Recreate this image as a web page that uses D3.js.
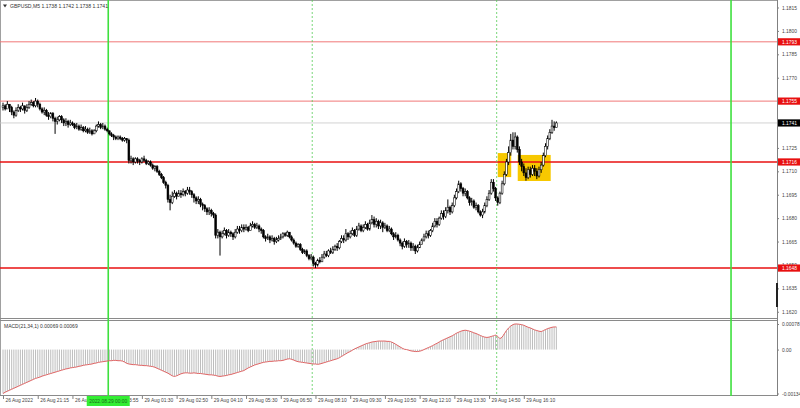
<!DOCTYPE html>
<html><head><meta charset="utf-8">
<script src="https://cdn.jsdelivr.net/npm/d3@7"></script>
<style>body{margin:0;background:#fff}svg{display:block}text{font-family:"Liberation Sans",Arial,sans-serif}</style>
</head><body><svg id="c" width="800" height="408"></svg>
<script>
// ---- data (GBPUSD M5) ----
const firstOpen = 1.1751;
const closes = [
1.1752,1.1750,1.1753,1.1751,1.1748,1.1746,1.1749,1.1751,1.1750,1.1752,1.1749,1.1751,1.1753,1.1754,1.1752,1.1755,
1.1753,1.1750,1.1748,1.1749,1.1746,1.1745,1.1747,1.1744,1.1742,1.1743,1.1745,1.1743,1.1741,1.1742,1.1740,1.1741,
1.1740,1.1738,1.1739,1.1737,1.1738,1.1736,1.1737,1.1735,1.1736,1.1734,1.1736,1.1739,1.1740,1.1738,1.1739,1.1737,
1.1736,1.1734,1.1733,1.1732,1.1731,1.1732,1.1731,1.1730,1.1731,1.1730,1.1717,1.1718,1.1716,1.1718,1.1717,1.1716,
1.1718,1.1717,1.1715,1.1716,1.1714,1.1712,1.1713,1.1710,1.1708,1.1706,1.1703,1.1701,1.1692,1.1690,1.1694,1.1696,
1.1694,1.1696,1.1695,1.1697,1.1696,1.1698,1.1697,1.1695,1.1693,1.1691,1.1692,1.1689,1.1688,1.1686,1.1684,1.1685,
1.1683,1.1682,1.1669,1.1671,1.1668,1.1670,1.1672,1.1669,1.1671,1.1670,1.1668,1.1671,1.1673,1.1672,1.1674,1.1673,
1.1674,1.1672,1.1675,1.1676,1.1674,1.1675,1.1673,1.1672,1.1668,1.1667,1.1668,1.1666,1.1667,1.1665,1.1666,1.1667,
1.1668,1.1670,1.1669,1.1671,1.1668,1.1666,1.1664,1.1662,1.1663,1.1660,1.1658,1.1659,1.1656,1.1654,1.1655,1.1651,
1.1650,1.1653,1.1652,1.1655,1.1657,1.1656,1.1659,1.1658,1.1660,1.1662,1.1661,1.1665,1.1667,1.1666,1.1670,1.1668,
1.1670,1.1672,1.1669,1.1673,1.1675,1.1672,1.1674,1.1676,1.1673,1.1677,1.1679,1.1676,1.1678,1.1675,1.1677,1.1674,
1.1675,1.1672,1.1673,1.1670,1.1668,1.1669,1.1666,1.1664,1.1662,1.1665,1.1663,1.1664,1.1661,1.1662,1.1659,1.1661,
1.1663,1.1666,1.1668,1.1670,1.1669,1.1672,1.1675,1.1678,1.1676,1.1680,1.1683,1.1681,1.1685,1.1687,1.1684,1.1688,
1.1693,1.1697,1.1702,1.1699,1.1696,1.1697,1.1693,1.1690,1.1691,1.1687,1.1688,1.1684,1.1682,1.1684,1.1688,1.1692,
1.1696,1.1703,1.1699,1.1693,1.1690,1.1696,1.1702,1.1708,1.1716,1.1722,1.1730,1.1726,1.1732,1.1724,1.1716,1.1713,
1.1709,1.1706,1.1711,1.1708,1.1712,1.1710,1.1707,1.1711,1.1714,1.1720,1.1726,1.1731,1.1735,1.1739,1.1738,1.1741];
const highs = [
1.1754,1.1753,1.1755,1.1753,1.1752,1.1749,1.1751,1.1753,1.1752,1.1754,1.1752,1.1753,1.1755,1.1756,1.1755,1.1757,
1.1756,1.1754,1.1751,1.1751,1.1750,1.1748,1.1748,1.1748,1.1745,1.1745,1.1746,1.1746,1.1744,1.1744,1.1743,1.1743,
1.1742,1.1741,1.1741,1.1740,1.1740,1.1739,1.1739,1.1738,1.1738,1.1737,1.1737,1.1740,1.1742,1.1741,1.1741,1.1740,
1.1738,1.1736,1.1735,1.1734,1.1733,1.1733,1.1733,1.1732,1.1732,1.1731,1.1731,1.1720,1.1719,1.1719,1.1719,1.1718,
1.1719,1.1720,1.1718,1.1717,1.1717,1.1715,1.1714,1.1714,1.1711,1.1709,1.1707,1.1704,1.1702,1.1695,1.1697,1.1698,
1.1697,1.1698,1.1698,1.1699,1.1698,1.1700,1.1700,1.1698,1.1696,1.1694,1.1694,1.1693,1.1690,1.1689,1.1687,1.1687,
1.1686,1.1684,1.1683,1.1673,1.1672,1.1672,1.1674,1.1673,1.1673,1.1672,1.1671,1.1673,1.1675,1.1675,1.1676,1.1676,
1.1676,1.1675,1.1677,1.1678,1.1677,1.1677,1.1676,1.1674,1.1673,1.1669,1.1670,1.1669,1.1669,1.1668,1.1668,1.1669,
1.1670,1.1671,1.1671,1.1672,1.1671,1.1669,1.1667,1.1665,1.1664,1.1664,1.1661,1.1660,1.1660,1.1657,1.1657,1.1656,
1.1652,1.1654,1.1655,1.1657,1.1659,1.1659,1.1660,1.1661,1.1662,1.1663,1.1664,1.1666,1.1669,1.1669,1.1673,1.1671,
1.1672,1.1674,1.1673,1.1675,1.1677,1.1676,1.1676,1.1678,1.1677,1.1679,1.1682,1.1681,1.1680,1.1679,1.1679,1.1678,
1.1677,1.1676,1.1675,1.1674,1.1671,1.1671,1.1670,1.1667,1.1665,1.1667,1.1666,1.1666,1.1665,1.1664,1.1663,1.1663,
1.1665,1.1667,1.1670,1.1672,1.1672,1.1673,1.1677,1.1680,1.1680,1.1681,1.1685,1.1685,1.1687,1.1692,1.1688,1.1690,
1.1695,1.1699,1.1704,1.1703,1.1700,1.1699,1.1698,1.1694,1.1693,1.1692,1.1690,1.1689,1.1685,1.1686,1.1690,1.1694,
1.1698,1.1705,1.1705,1.1700,1.1694,1.1697,1.1704,1.1710,1.1718,1.1726,1.1734,1.1735,1.1735,1.1733,1.1726,1.1718,
1.1715,1.1712,1.1713,1.1713,1.1714,1.1714,1.1712,1.1713,1.1716,1.1722,1.1728,1.1733,1.1737,1.1743,1.1742,1.1742];
const lows = [
1.1749,1.1749,1.1750,1.1748,1.1746,1.1744,1.1745,1.1748,1.1748,1.1749,1.1747,1.1748,1.1750,1.1752,1.1751,1.1751,
1.1751,1.1749,1.1747,1.1746,1.1745,1.1743,1.1744,1.1742,1.1734,1.1740,1.1742,1.1741,1.1739,1.1739,1.1738,1.1739,
1.1739,1.1737,1.1737,1.1736,1.1736,1.1735,1.1735,1.1734,1.1734,1.1733,1.1734,1.1735,1.1738,1.1737,1.1737,1.1736,
1.1735,1.1733,1.1732,1.1730,1.1730,1.1730,1.1730,1.1729,1.1729,1.1728,1.1715,1.1715,1.1714,1.1715,1.1715,1.1714,
1.1715,1.1716,1.1714,1.1714,1.1713,1.1711,1.1710,1.1709,1.1707,1.1705,1.1702,1.1699,1.1690,1.1685,1.1689,1.1693,
1.1692,1.1694,1.1693,1.1694,1.1694,1.1695,1.1695,1.1693,1.1690,1.1689,1.1689,1.1687,1.1685,1.1684,1.1682,1.1682,
1.1681,1.1680,1.1667,1.1667,1.1656,1.1667,1.1669,1.1667,1.1668,1.1668,1.1666,1.1667,1.1670,1.1670,1.1671,1.1671,
1.1672,1.1671,1.1672,1.1674,1.1673,1.1673,1.1671,1.1670,1.1667,1.1665,1.1666,1.1664,1.1665,1.1663,1.1664,1.1665,
1.1666,1.1667,1.1668,1.1668,1.1667,1.1665,1.1663,1.1661,1.1661,1.1659,1.1657,1.1657,1.1655,1.1653,1.1653,1.1649,
1.1648,1.1649,1.1651,1.1652,1.1654,1.1655,1.1655,1.1657,1.1657,1.1659,1.1659,1.1660,1.1664,1.1664,1.1665,1.1666,
1.1667,1.1669,1.1668,1.1668,1.1672,1.1671,1.1671,1.1673,1.1672,1.1672,1.1676,1.1674,1.1674,1.1673,1.1673,1.1671,
1.1673,1.1671,1.1671,1.1669,1.1666,1.1667,1.1665,1.1662,1.1660,1.1661,1.1661,1.1661,1.1659,1.1659,1.1657,1.1658,
1.1661,1.1663,1.1665,1.1667,1.1667,1.1668,1.1671,1.1674,1.1674,1.1675,1.1679,1.1679,1.1680,1.1683,1.1682,1.1683,
1.1687,1.1692,1.1696,1.1697,1.1694,1.1694,1.1692,1.1688,1.1688,1.1686,1.1685,1.1683,1.1681,1.1680,1.1683,1.1687,
1.1691,1.1695,1.1697,1.1691,1.1688,1.1689,1.1695,1.1701,1.1707,1.1714,1.1720,1.1724,1.1724,1.1722,1.1714,1.1710,
1.1707,1.1704,1.1705,1.1706,1.1707,1.1707,1.1705,1.1706,1.1709,1.1713,1.1719,1.1724,1.1730,1.1734,1.1736,1.1738];
const macd = [
-0.00134,-0.00130,-0.00127,-0.00124,-0.00121,-0.00118,-0.00115,-0.00112,-0.00109,-0.00106,-0.00103,-0.00100,-0.00097,-0.00094,-0.00091,-0.00088,
-0.00086,-0.00084,-0.00081,-0.00079,-0.00077,-0.00075,-0.00073,-0.00071,-0.00069,-0.00067,-0.00065,-0.00063,-0.00061,-0.00059,-0.00058,-0.00056,
-0.00055,-0.00054,-0.00053,-0.00051,-0.00050,-0.00048,-0.00047,-0.00046,-0.00045,-0.00044,-0.00042,-0.00041,-0.00039,-0.00038,-0.00037,-0.00036,
-0.00035,-0.00034,-0.00034,-0.00033,-0.00033,-0.00034,-0.00034,-0.00035,-0.00038,-0.00042,-0.00044,-0.00045,-0.00046,-0.00046,-0.00047,-0.00048,
-0.00048,-0.00049,-0.00049,-0.00050,-0.00051,-0.00052,-0.00054,-0.00057,-0.00060,-0.00063,-0.00066,-0.00069,-0.00072,-0.00076,-0.00080,-0.00082,
-0.00080,-0.00077,-0.00074,-0.00072,-0.00071,-0.00071,-0.00072,-0.00072,-0.00071,-0.00072,-0.00073,-0.00073,-0.00074,-0.00075,-0.00076,-0.00077,
-0.00077,-0.00078,-0.00079,-0.00081,-0.00082,-0.00081,-0.00080,-0.00079,-0.00077,-0.00076,-0.00074,-0.00072,-0.00070,-0.00068,-0.00066,-0.00064,
-0.00060,-0.00056,-0.00053,-0.00050,-0.00047,-0.00045,-0.00043,-0.00041,-0.00039,-0.00038,-0.00037,-0.00036,-0.00036,-0.00035,-0.00035,-0.00034,
-0.00034,-0.00033,-0.00031,-0.00029,-0.00028,-0.00030,-0.00032,-0.00035,-0.00037,-0.00038,-0.00039,-0.00040,-0.00041,-0.00042,-0.00043,-0.00044,
-0.00044,-0.00045,-0.00044,-0.00042,-0.00040,-0.00038,-0.00036,-0.00034,-0.00032,-0.00030,-0.00028,-0.00025,-0.00021,-0.00017,-0.00013,-0.00009,
-0.00006,-0.00002,0.00002,0.00005,0.00008,0.00011,0.00014,0.00017,0.00019,0.00021,0.00023,0.00024,0.00025,0.00026,0.00026,0.00026,
0.00026,0.00025,0.00025,0.00023,0.00020,0.00016,0.00012,0.00008,0.00004,0.00001,0.00000,-0.00002,-0.00004,-0.00005,-0.00006,-0.00006,
-0.00005,-0.00003,0.00000,0.00003,0.00006,0.00009,0.00012,0.00016,0.00019,0.00023,0.00027,0.00030,0.00033,0.00036,0.00039,0.00042,
0.00046,0.00050,0.00053,0.00056,0.00058,0.00059,0.00058,0.00056,0.00054,0.00051,0.00049,0.00046,0.00043,0.00040,0.00038,0.00037,
0.00038,0.00040,0.00042,0.00044,0.00040,0.00034,0.00038,0.00048,0.00058,0.00066,0.00072,0.00076,0.00078,0.00078,0.00077,0.00076,
0.00074,0.00071,0.00068,0.00066,0.00063,0.00060,0.00058,0.00056,0.00055,0.00058,0.00061,0.00064,0.00066,0.00068,0.00069,0.00069];
const priceTicks = [1.1815,1.1800,1.1785,1.1770,1.1725,1.1710,1.1695,1.1680,1.1665,1.1650,1.1635,1.1620];
const levelsLight = [1.1793, 1.1755];
const levelsStrong = [1.1716, 1.1648];
const currentPrice = 1.1741;
const macdTicks = [0.00078, 0, -0.00134];
const macdTickText = ["0.00078", "0.00", "-0.00134"];
const timeBars = [0,16,32,48,64,80,96,112,128,144,160,176,192,208,224,240];
const timeText = ["26 Aug 2022","26 Aug 21:15","26 Aug 22:35","26 Aug 23:55","29 Aug 01:30","29 Aug 02:50","29 Aug 04:10",
  "29 Aug 05:30","29 Aug 06:50","29 Aug 08:10","29 Aug 09:30","29 Aug 10:50","29 Aug 12:10","29 Aug 13:30","29 Aug 14:50","29 Aug 16:10"];
const solidMarkers = [48.5, 335.5];
const dashedMarkers = [142.5, 227.5];
const cursorBar = 48.5, cursorText = "2022.08.29 00:00";
const boxes = [{from:228, to:234.2, lo:1.17063, hi:1.17217},{from:237.2, to:252.4, lo:1.17038, hi:1.17205}];
const title = "GBPUSD,M5  1.1738 1.1742 1.1738 1.1741";
const macdTitle = "MACD(21,34,1) 0.00069 0.00069";

// ---- drawing ----
const svg = d3.select("#c");
const PR = 777;
const x = d3.scaleLinear().domain([0, 255]).range([3, 3 + 2.17*255]);
const y = d3.scaleLinear().domain([1.16160, 1.18198]).range([318, 0]);
const ym = d3.scaleLinear().domain([-0.00134, 0.00078]).range([393.5, 324]);
const FS = 4.9;

// frames
svg.append("line").attr("x1",0.5).attr("x2",0.5).attr("y1",0).attr("y2",395).attr("stroke","#a0a0a0");
svg.append("line").attr("x1",0).attr("x2",PR).attr("y1",0.5).attr("y2",0.5).attr("stroke","#a0a0a0");
svg.append("line").attr("x1",0).attr("x2",PR).attr("y1",318.5).attr("y2",318.5).attr("stroke","#8a8a8a");
svg.append("line").attr("x1",0).attr("x2",PR).attr("y1",320.5).attr("y2",320.5).attr("stroke","#8a8a8a");
svg.append("line").attr("x1",0).attr("x2",PR).attr("y1",395.5).attr("y2",395.5).attr("stroke","#8a8a8a");
svg.append("line").attr("x1",PR+0.5).attr("x2",PR+0.5).attr("y1",0).attr("y2",396).attr("stroke","#808080");

// yellow boxes
svg.selectAll("rect.box").data(boxes).join("rect").attr("class","box")
  .attr("x", d => x(d.from)).attr("width", d => x(d.to) - x(d.from))
  .attr("y", d => y(d.hi)).attr("height", d => y(d.lo) - y(d.hi)).attr("fill", "#f7c800");

// horizontal levels
svg.append("line").attr("x1",0).attr("x2",PR).attr("y1",y(currentPrice)).attr("y2",y(currentPrice)).attr("stroke","#c8c8c8").attr("stroke-width",0.8);
svg.selectAll("line.lvl1").data(levelsLight).join("line").attr("class","lvl1")
  .attr("x1",0).attr("x2",PR).attr("y1",d=>y(d)).attr("y2",d=>y(d)).attr("stroke","#f07878").attr("stroke-width",1);
svg.selectAll("line.lvl2").data(levelsStrong).join("line").attr("class","lvl2")
  .attr("x1",0).attr("x2",PR).attr("y1",d=>y(d)).attr("y2",d=>y(d)).attr("stroke","#e81010").attr("stroke-width",1.6);

// vertical markers
svg.selectAll("line.vs").data(solidMarkers).join("line").attr("class","vs")
  .attr("x1",d=>x(d)).attr("x2",d=>x(d)).attr("y1",0).attr("y2",396).attr("stroke","#3ee03e").attr("stroke-width",1.6);
svg.selectAll("line.vd").data(dashedMarkers).join("line").attr("class","vd")
  .attr("x1",d=>x(d)).attr("x2",d=>x(d)).attr("y1",0).attr("y2",395).attr("stroke","#55cc55").attr("stroke-width",0.8).attr("stroke-dasharray","2,2");

// candles
const candles = closes.map((c,i) => {
  const o = i === 0 ? firstOpen : closes[i-1];
  return {i, o, c, h: Math.max(highs[i], o, c), l: Math.min(lows[i], o, c)};
});
const cg = svg.append("g");
cg.selectAll("line").data(candles).join("line")
  .attr("x1",d=>x(d.i)).attr("x2",d=>x(d.i)).attr("y1",d=>y(d.h)).attr("y2",d=>y(d.l))
  .attr("stroke","#000").attr("stroke-width",1);
cg.selectAll("rect").data(candles).join("rect")
  .attr("x",d=>x(d.i)-0.9).attr("width",1.8)
  .attr("y",d=>y(Math.max(d.o,d.c))).attr("height",d=>Math.max(0.6, Math.abs(y(d.o)-y(d.c))))
  .attr("fill",d=>d.c>=d.o?"#fff":"#000").attr("stroke","#000").attr("stroke-width",0.55);

// MACD
svg.append("g").selectAll("line").data(macd).join("line")
  .attr("x1",(d,i)=>x(i)).attr("x2",(d,i)=>x(i)).attr("y1",ym(0)).attr("y2",d=>ym(d))
  .attr("stroke","#b4b4b4").attr("stroke-width",0.9);
svg.append("path").datum(macd).attr("fill","none").attr("stroke","#e06464").attr("stroke-width",1)
  .attr("d", d3.line().x((d,i)=>x(i)).y(d=>ym(d)).curve(d3.curveMonotoneX));

// right price axis
const ax = d3.axisRight(y).tickValues(priceTicks).tickSize(2).tickPadding(3).tickFormat(d3.format(".4f"));
const axg = svg.append("g").attr("transform",`translate(${PR},0)`).call(ax);
axg.select(".domain").remove();
axg.selectAll("line").attr("stroke","#808080");
axg.selectAll("text").attr("font-size",FS).attr("fill","#444").attr("font-family","Liberation Sans, Arial, sans-serif");

// MACD axis
const maxis = d3.axisRight(ym).tickValues(macdTicks).tickSize(2).tickPadding(3).tickFormat((d,i)=>macdTickText[i]);
const mg = svg.append("g").attr("transform",`translate(${PR},0)`).call(maxis);
mg.select(".domain").remove();
mg.selectAll("line").attr("stroke","#808080");
mg.selectAll("text").attr("font-size",FS).attr("fill","#444").attr("font-family","Liberation Sans, Arial, sans-serif");

// price labels on the axis
function tag(p, bg, txt) {
  const g = svg.append("g");
  g.append("rect").attr("x",PR+1).attr("y",y(p)-3.6).attr("width",22).attr("height",7.2).attr("fill",bg);
  g.append("text").attr("x",PR+5).attr("y",y(p)).attr("dy","0.35em").attr("font-size",FS).attr("fill","#fff").text(txt);
}
levelsLight.concat(levelsStrong).forEach(p => tag(p, "#e81010", d3.format(".4f")(p)));
tag(currentPrice, "#000", d3.format(".4f")(currentPrice));
svg.append("rect").attr("x",PR-1).attr("y",283).attr("width",2).attr("height",24).attr("fill","#222");

// time axis
const tx = d3.axisBottom(x).tickValues(timeBars).tickSize(3).tickFormat((d,i)=>timeText[i]);
const tg = svg.append("g").attr("transform","translate(0,396)").call(tx);
tg.select(".domain").remove();
tg.selectAll("line").attr("stroke","#808080");
tg.selectAll("text").attr("font-size",FS).attr("fill","#444").attr("text-anchor","start")
  .attr("x",2).attr("y",2.5).attr("dy","0.71em").attr("font-family","Liberation Sans, Arial, sans-serif");

// cursor date tag
const cg2 = svg.append("g");
cg2.append("rect").attr("x",x(cursorBar)-21.5).attr("y",396).attr("width",43).attr("height",10).attr("fill","#33ee33");
cg2.append("text").attr("x",x(cursorBar)).attr("y",401).attr("dy","0.35em").attr("text-anchor","middle")
  .attr("font-size",FS).attr("fill","#1a6a1a").text(cursorText);

// titles
svg.append("path").attr("d","M3,4.5 L7,4.5 L5,7.5 Z").attr("fill","#333");
svg.append("text").attr("x",10).attr("y",6).attr("dy","0.35em").attr("font-size",5.1).attr("fill","#333").text(title);
svg.append("text").attr("x",4).attr("y",326).attr("dy","0.35em").attr("font-size",5).attr("fill","#333").text(macdTitle);
</script></body></html>
